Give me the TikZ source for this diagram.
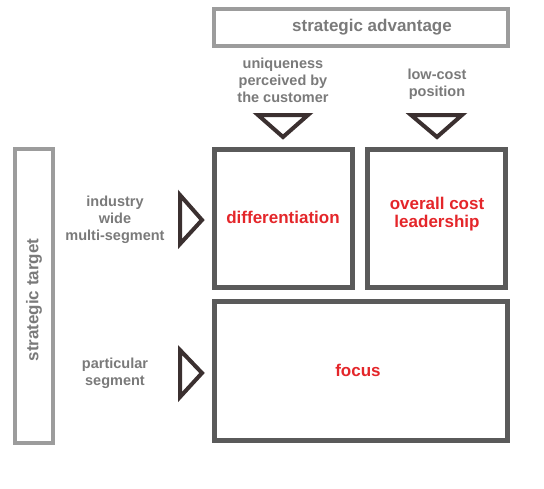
\documentclass[tikz,border=0pt]{standalone}
\usepackage{fontspec}
\setmainfont{Liberation Sans}
\definecolor{lgray}{HTML}{9C9C9C}
\definecolor{dgray}{HTML}{5A5A5A}
\definecolor{tgray}{HTML}{7A7A7A}
\definecolor{tri}{HTML}{3B3030}
\definecolor{redt}{HTML}{E4262A}
\begin{document}
\begin{tikzpicture}[x=1pt,y=-1pt,
  lbox/.style={draw=lgray,line width=4pt,inner sep=0pt},
  dbox/.style={draw=dgray,line width=5pt,inner sep=0pt},
  lbl/.style={text=tgray,font=\bfseries\fontsize{14.5}{17}\selectfont,align=center},
  red/.style={text=redt,font=\bfseries\fontsize{17}{18}\selectfont,align=center},
  trishape/.style={draw=tri,line width=4pt,line join=miter}]
\useasboundingbox (0,0) rectangle (544,488);
% strategic advantage box
\node[lbox,minimum width=294pt,minimum height=37pt] (adv) at (361,27.5) {};
\node[text=tgray,font=\bfseries\fontsize{17}{20}\selectfont] (advt) at (372,27) {strategic advantage};
% strategic target box
\node[lbox,minimum width=38pt,minimum height=294pt] (tgt) at (34,296) {};
\node[text=tgray,font=\bfseries\fontsize{17}{20}\selectfont,rotate=90] (tgtt) at (34,300) {strategic target};
% column labels
\node[lbl] (uniq) at (283,80) {uniqueness\\perceived by\\the customer};
\node[lbl] (low) at (437,84) {low-cost\\position};
% row labels
\node[lbl] (ind) at (115,220) {industry\\wide\\multi-segment};
\node[lbl] (part) at (115,373) {particular\\segment};
% strategy boxes
\node[dbox,minimum width=138pt,minimum height=138pt] (diff) at (283.5,218.5) {};
\node[red] (difft) at (283,217) {differentiation};
\node[dbox,minimum width=138pt,minimum height=138pt] (cost) at (436.5,218.5) {};
\node[red] (costt) at (437,214) {overall cost\\leadership};
\node[dbox,minimum width=293pt,minimum height=139pt] (foc) at (361,371) {};
\node[red] (foct) at (358,370) {focus};
% triangles (down-pointing)
\draw[trishape] (258,115) -- (308,115) -- (283,137) -- cycle;
\draw[trishape] (411,115) -- (462,115) -- (437,137) -- cycle;
% triangles (right-pointing)
\draw[trishape] (180,195) -- (202,220) -- (180,244) -- cycle;
\draw[trishape] (180,350) -- (202,373) -- (180,397) -- cycle;
\end{tikzpicture}
\end{document}
